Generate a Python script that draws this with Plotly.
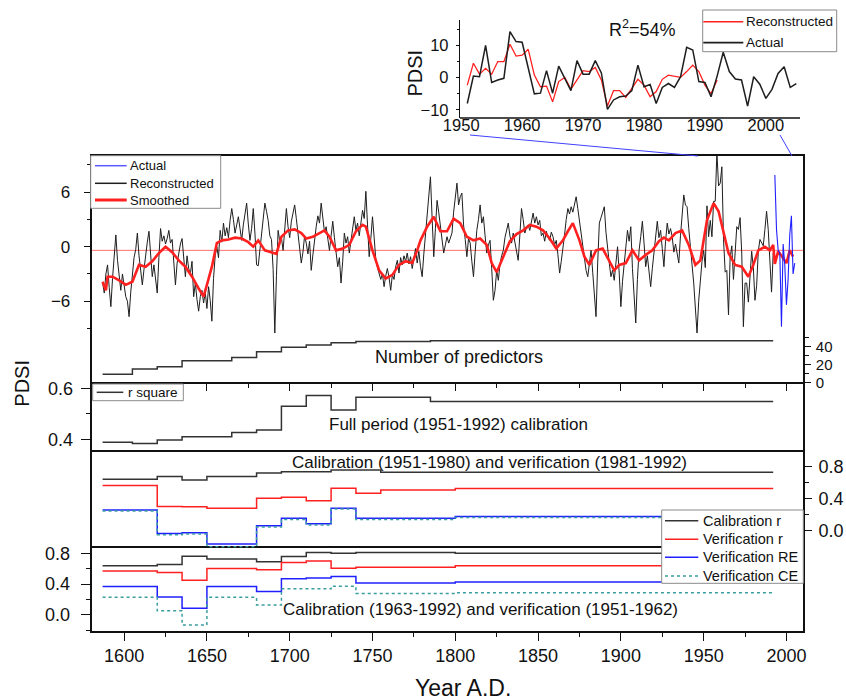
import plotly.graph_objects as go

W, H = 846, 700
def px(x): return x / W
def py(y): return 1 - y / H

FONT = "Liberation Sans"

# ---------------- data ----------------
recon_start_year = 1587
recon_early = [
    -3.9, -5.1, -3.0,
    -2.0, -4.5, -6.6, -3.5, -1.0, 1.3, -1.5, -3.2, -4.8, -3.0,
    -4.2, -5.5, -6.0, -7.7, -5.0, -3.3, -1.2, -0.3, 1.5, -1.0,
    -2.8, -4.2, -2.5, -0.8, 0.5, 1.7, -0.9, -3.3, -2.0, -3.6,
    -5.1, -1.2, 2.0, 0.6, 1.2, 0.3, 0.9, 1.8, 0.4, 0.8,
    -1.5, -4.2, -1.8, -0.5, 0.3, 0.9, -1.1, -3.3, -1.0, -2.4,
    -3.0, -1.6, -5.5, -4.0, -5.8, -7.1, -5.5, -4.8, -6.2, -5.0,
    -6.8, -4.4, -5.9, -8.2, -3.5, -1.0, 0.0, -1.2, 1.8, 0.5,
    2.6, 1.2, 2.1, 1.0, 2.9, 4.2, 3.0, 1.5, 2.4, 3.3,
    2.0, 0.7, 2.4, 3.5, 4.8, 2.5, 0.7, 2.0, 4.2, 1.5,
    -2.0, -2.1, -0.5, 1.6, 3.2, 4.8, 3.9, 2.9, 1.2, 0.8,
    -2.5, -9.5, -3.2, 1.8, 0.6, 1.0, -0.4, 1.9, 4.2, 2.2,
    1.0, 2.8, 3.6, 4.6, 3.1, 1.5, 0.2, -1.8, -0.6, 1.2,
    0.4, -0.8, 0.6, -2.6, -0.9, 0.8, 2.2, 3.4, 2.6, 4.8,
    3.0, 1.6, 2.2, 1.0, -0.4, 1.2, 2.8, 1.0, -0.6, -2.2,
    -1.2, -4.0, -1.6, 1.5, 0.4, 1.1, -0.7, 0.8, 2.0, 3.3,
    1.8, 2.6, 1.2, 2.9, 4.0, 3.1, 6.1, 2.4, -1.1, 0.9,
    3.3, 1.0, -1.4, -2.3, -2.9, -3.6, -3.0, -4.4, -3.2, -2.4,
    -3.4, -4.8, -3.1, -3.6, -2.2, -1.5, -2.9, -1.2, -2.0, -1.0,
    -1.6, -0.7, -1.9, -1.1, -2.4, -1.5, -0.2, -1.8, -0.5, -2.2,
    -3.3, -0.8, 1.5, 3.5, 5.6, 7.7, 3.2, -1.1, 2.0, 5.1,
    3.8, 2.2, 0.9, -0.7, 0.2, 1.1, 0.4, 0.9, 1.5, 3.8,
    5.2, 7.0, 4.6, 5.5, 5.9, 2.4, 0.8, -1.1, 0.9, 0.4,
    -1.6, -3.3, -0.6, 1.8, 3.0, 4.6, 2.6, 3.3, 1.2, -0.7,
    0.2, 0.7, -2.4, -5.9, -4.8, -2.6, -3.7, -1.9, -1.0, -0.4,
    1.0, 1.8, 2.6, 1.2, 0.4, 1.5, 0.6, -0.2, -1.5, 1.3,
    4.2, 3.0, 1.5, 2.1, 2.4, 1.8, 3.0, 3.7, 2.6, 3.3,
    2.4, 2.9, 1.2, 1.5, 0.6, 1.7, 1.0, 0.7, 1.6, 1.1,
    0.2, 0.7, -0.9, -2.9, -1.6, -0.4, 1.3, 3.0, 4.2, 3.6,
    4.4, 3.8, 4.9, 5.5, 4.2, 2.9, 1.5, 0.3, -1.5, -2.6,
    -3.3, -1.9, -0.4, -2.8, -5.0, -7.7, -1.8, 2.6, 3.2, 3.8,
    4.4, 1.6, -0.4, -1.8, -3.3, -2.6, -3.7, -1.4, 0.0, -2.9,
    -6.6, -3.8, -1.8, 0.2, 1.8, 0.6, 2.2, -2.4, -5.0, -8.4,
    -3.6, -0.4, 1.1, 2.8, 0.4, -2.2, -1.0, -2.9, -4.4, -2.4,
    -0.4, 1.2, 2.8, 1.0, 1.8, -0.2, -2.2, 0.6, 2.6, 1.4,
    2.0, 1.1, -0.6, 0.3, -1.0, -1.8, 1.2, 4.0, 5.7, 4.6,
    4.4, 2.0, -0.4, -2.0, -4.0, -6.4, -9.5, -6.0, -3.3, -1.6,
    -0.4,
]

inset_start_year = 1951
inset_recon = [
    -2.3, 4.5, 1.1, 2.9, 1.1, 5.0, 5.0, 10.4, 6.7, 7.0,
    8.8, 0.8, -2.8, -2.6, -7.5, -1.2, 0.1, -3.6, -0.7, 2.2,
    1.9, 3.2, -0.7, -8.8, -4.0, -4.0, -6.1, -3.3, -0.5, -2.3,
    -5.9, -4.3, -0.5, 0.8, 0.5, 0.1, 1.9, 3.9, 1.9, -2.3,
    -5.0, -0.7,
]
actual = [
    -8.0, 0.5, 0.3, 10.0, -1.5, -0.7, -0.2, 14.3, 11.2, 11.0,
    3.0, -5.0, -4.8, 2.2, -4.8, 3.6, -0.2, -4.0, 5.3, 1.1,
    1.1, 5.3, 1.5, -9.8, -6.9, -5.9, -5.7, -4.0, 3.9, -2.8,
    -2.1, -8.0, -3.0, -1.8, -3.0, 0.3, 9.4, 8.6, -1.2, -1.5,
    -5.9, 0.5, 7.9, 1.9, -0.4, -0.7, -8.8, 0.3, -2.0, -6.4,
    -3.6, 1.3, 3.4, -3.0, -1.8,
]
main_actual_from = 1993

smooth_years = [1587, 1589, 1590, 1593, 1597, 1601, 1605, 1609, 1613, 1617, 1621, 1625, 1629,
                1633, 1637, 1641, 1645, 1648, 1650, 1653, 1656, 1659, 1663, 1667, 1671, 1675,
                1678, 1681, 1685, 1689, 1692, 1695, 1699, 1703, 1707, 1710, 1714, 1718, 1721,
                1724, 1728, 1732, 1736, 1740, 1744, 1746, 1750, 1754, 1758, 1762, 1766, 1770,
                1774, 1777, 1779, 1783, 1787, 1791, 1795, 1799, 1803, 1807, 1811, 1815, 1819,
                1822, 1825, 1829, 1833, 1837, 1841, 1845, 1849, 1853, 1857, 1861, 1865, 1868,
                1871, 1875, 1878, 1881, 1885, 1889, 1893, 1896, 1899, 1903, 1907, 1911, 1915,
                1919, 1923, 1926, 1929, 1933, 1937, 1941, 1945, 1948, 1952, 1956, 1959, 1962,
                1965, 1969, 1973, 1977, 1980, 1983, 1987, 1990, 1992, 1993, 1995, 1997, 2000,
                2002, 2004]
smooth_vals = [-3.85, -4.8, -3.3, -3.3, -3.7, -4.2, -3.85, -2.0, -2.2, -1.6, -0.7, 0.0, -0.6,
               -1.5, -2.2, -3.3, -4.6, -5.5, -4.2, -2.2, 0.4, 0.7, 0.8, 1.0, 0.9, 0.5,
               0.0, 0.7, -0.4, -0.6, -0.8, 1.1, 1.8, 1.9, 1.5, 0.9, 1.1, 1.5, 1.8,
               1.1, -0.4, -0.2, 0.2, 1.7, 2.4, 2.2, -0.4, -2.6, -3.5, -3.1, -2.0, -1.6,
               -1.8, -0.4, 0.7, 2.2, 3.3, 1.7, 1.7, 3.1, 2.6, 1.1, 0.7, 0.9, 0.2,
               -1.8, -2.8, -1.1, 0.6, 1.4, 1.8, 2.4, 2.2, 1.8, 0.9, -0.2, 0.7, 1.7,
               2.6, 0.7, -1.1, -2.0, -0.4, -0.2, -1.5, -2.6, -2.0, -1.8, -0.4, -1.5, -0.9,
               -0.4, 0.6, 1.0, 0.7, 1.5, 1.8, 0.2, -2.0, -1.5, 2.9, 4.8, 3.9, 1.5,
               -0.7, -2.0, -2.2, -3.3, -2.0, -0.4, 0.0, -0.4, 0.2, -1.9, -0.5, -1.0, -1.8,
               -0.4, -1.1]
mean_line = -0.4

# step panels (breakpoint years, segment values)
step_years = [1587, 1605, 1620, 1635, 1650, 1665, 1680, 1695, 1710, 1725, 1740, 1755, 1785, 1800]
step_end = 1992
n_predictors = [9.3, 15.2, 17.8, 24.5, 24.5, 28.0, 34.5, 39.5, 42.0, 44.5, 45.8, 45.8, 46.7, 46.7]
r_square = [0.388, 0.384, 0.397, 0.41, 0.41, 0.427, 0.437, 0.53, 0.572, 0.515, 0.565, 0.565, 0.548, 0.548]
a_cal_r = [0.643, 0.643, 0.676, 0.635, 0.676, 0.676, 0.72, 0.738, 0.738, 0.759, 0.759, 0.73, 0.73, 0.73]
a_ver_r = [0.564, 0.564, 0.303, 0.30, 0.282, 0.282, 0.406, 0.419, 0.373, 0.531, 0.469, 0.51, 0.51, 0.527]
a_re = [0.26, 0.26, -0.035, -0.025, -0.166, -0.166, 0.062, 0.157, 0.087, 0.282, 0.157, 0.157, 0.157, 0.178]
a_ce = [0.245, 0.245, -0.05, -0.04, -0.2, -0.2, 0.045, 0.14, 0.07, 0.27, 0.14, 0.14, 0.14, 0.165]
b_cal_r = [0.64, 0.64, 0.655, 0.762, 0.725, 0.725, 0.69, 0.759, 0.81, 0.80, 0.81, 0.81, 0.81, 0.80]
b_ver_r = [0.572, 0.572, 0.552, 0.452, 0.603, 0.603, 0.588, 0.68, 0.70, 0.605, 0.62, 0.62, 0.62, 0.64]
b_re = [0.37, 0.37, 0.234, 0.088, 0.37, 0.37, 0.305, 0.47, 0.479, 0.50, 0.415, 0.415, 0.415, 0.428]
b_ce = [0.229, 0.229, 0.055, -0.13, 0.229, 0.229, 0.13, 0.34, 0.34, 0.373, 0.28, 0.28, 0.28, 0.29]

x_ticks = [1600, 1650, 1700, 1750, 1800, 1850, 1900, 1950, 2000]
x_minor = [1625, 1675, 1725, 1775, 1825, 1875, 1925, 1975]
inset_ticks = [1950, 1960, 1970, 1980, 1990, 2000]

# ---------------- geometry (pixels) ----------------
XL, XR = 91.5, 803.0
XRANGE = [1580.3, 2010.0]
MAIN = (155.7, 337.0)
PRED = (337.0, 384.3)
RSQ = (384.3, 452.3)
P3 = (452.3, 547.7)
P4 = (547.7, 630.7)
INSET_X = (460.0, 800.0)
INSET_Y = (20.0, 118.0)

BLACK = "#1e1e1e"
DARK = "#333333"
RED = "#ff2020"
BLUE = "#2020ff"
TEAL = "#3a9e9e"

fig = go.Figure()

recon = recon_early + inset_recon
recon_years = list(range(recon_start_year, recon_start_year + len(recon)))
inset_years = list(range(inset_start_year, inset_start_year + len(actual)))
recon_inset_years = list(range(inset_start_year, inset_start_year + len(inset_recon)))
main_act_years = [y for y in inset_years if y >= main_actual_from]
main_act_vals = [v for y, v in zip(inset_years, actual) if y >= main_actual_from]

# main panel
fig.add_trace(go.Scatter(x=recon_years, y=recon, mode="lines", name="Reconstructed",
                         line=dict(color=BLACK, width=1.0), xaxis="x5", yaxis="y"))
fig.add_trace(go.Scatter(x=smooth_years, y=smooth_vals, mode="lines", name="Smoothed",
                         line=dict(color=RED, width=2.6), xaxis="x5", yaxis="y"))
fig.add_trace(go.Scatter(x=main_act_years, y=main_act_vals, mode="lines", name="Actual",
                         line=dict(color=BLUE, width=1.1), xaxis="x5", yaxis="y"))

# inset
fig.add_trace(go.Scatter(x=recon_inset_years, y=inset_recon, mode="lines", name="Reconstructed",
                         line=dict(color=RED, width=1.3), xaxis="x6", yaxis="y6"))
fig.add_trace(go.Scatter(x=inset_years, y=actual, mode="lines", name="Actual",
                         line=dict(color=BLACK, width=1.5), xaxis="x6", yaxis="y6"))

def steps(vals):
    return step_years + [step_end], vals + [vals[-1]]

sx, sy = steps(n_predictors)
fig.add_trace(go.Scatter(x=sx, y=sy, mode="lines", name="Number of predictors",
                         line=dict(color=DARK, width=1.5, shape="hv"), xaxis="x4", yaxis="y2"))
sx, sy = steps(r_square)
fig.add_trace(go.Scatter(x=sx, y=sy, mode="lines", name="r square",
                         line=dict(color=DARK, width=1.5, shape="hv"), xaxis="x3", yaxis="y3"))

series_names = ["Calibration r", "Verification r", "Verification RE", "Verification CE"]
series_cols = [DARK, RED, BLUE, TEAL]
series_dash = ["solid", "solid", "solid", "dot"]
for name, vals, col, dash in zip(series_names, [a_cal_r, a_ver_r, a_re, a_ce], series_cols, series_dash):
    sx, sy = steps(vals)
    fig.add_trace(go.Scatter(x=sx, y=sy, mode="lines", name=name,
                             line=dict(color=col, width=1.5, shape="hv", dash=dash),
                             xaxis="x2", yaxis="y4"))
for name, vals, col, dash in zip(series_names, [b_cal_r, b_ver_r, b_re, b_ce], series_cols, series_dash):
    sx, sy = steps(vals)
    fig.add_trace(go.Scatter(x=sx, y=sy, mode="lines", name=name,
                             line=dict(color=col, width=1.5, shape="hv", dash=dash),
                             xaxis="x", yaxis="y5"))

dom_x = [px(XL), px(XR)]
def ydom(p): return [py(p[1]), py(p[0])]

AX = dict(showgrid=False, zeroline=False, linecolor="#111", tickcolor="#111", automargin=False,
          tickfont=dict(family=FONT, size=18, color="#111"))
MINOR = dict(ticks="outside", ticklen=4, tickwidth=1.3, tickcolor="#111", showgrid=False)

layout = dict(
    width=W, height=H, margin=dict(l=0, r=0, t=0, b=0, autoexpand=False), autosize=False,
    paper_bgcolor="white", plot_bgcolor="white", showlegend=False,
    font=dict(family=FONT, color="#111"),
    xaxis=dict(AX, domain=dom_x, range=XRANGE, anchor="y5", showline=True, linewidth=1.6,
               mirror=True, ticks="outside", ticklen=8, tickwidth=1.3, tickvals=x_ticks,
               ticklabelstandoff=0, minor=dict(MINOR, tickvals=x_minor)),
    xaxis2=dict(AX, domain=dom_x, range=XRANGE, anchor="y4", side="top", showline=True,
                linewidth=2, ticks="", showticklabels=False),
    xaxis3=dict(AX, domain=dom_x, range=XRANGE, anchor="y3", side="top", showline=True,
                linewidth=1.6, ticks="inside", ticklen=7, tickwidth=1.3, tickvals=x_ticks,
                showticklabels=False, minor=dict(MINOR, ticks="inside", tickvals=x_minor)),
    xaxis4=dict(AX, domain=dom_x, range=XRANGE, anchor="y2", visible=False),
    xaxis5=dict(AX, domain=dom_x, range=XRANGE, anchor="y", side="top", showline=True,
                linewidth=1.6, ticks="", showticklabels=False),
    yaxis=dict(AX, domain=ydom(MAIN), range=[-9.94, 10.02], anchor="x5", side="left",
               showline=True, linewidth=1.6, mirror=True, ticks="outside", ticklen=6,
               tickwidth=1.3, tickvals=[-6, 0, 6], ticklabelstandoff=10,
               tickfont=dict(family=FONT, size=17, color="#111"),
               minor=dict(MINOR, tickvals=[-9, -3, 3, 9], ticklen=3)),
    yaxis2=dict(AX, domain=ydom(PRED), range=[-1.78, 50.8], anchor="x4", side="right",
                showline=True, linewidth=1.6, mirror=True, ticks="outside", ticklen=6,
                tickwidth=1.3, tickvals=[0, 20, 40], ticklabelstandoff=2,
                tickfont=dict(family=FONT, size=15, color="#111"),
                minor=dict(MINOR, tickvals=[10, 30, 50])),
    yaxis3=dict(AX, domain=ydom(RSQ), range=[0.349, 0.616], anchor="x3", side="left",
                showline=True, linewidth=1.6, mirror=True, ticks="outside", ticklen=9,
                tickwidth=1.3, tickvals=[0.4, 0.6], tickformat=".1f", ticklabelstandoff=4,
                minor=dict(MINOR, tickvals=[0.5])),
    yaxis4=dict(AX, domain=ydom(P3), range=[-0.2125, 0.98], anchor="x2", side="right",
                showline=True, linewidth=1.6, mirror=True, ticks="outside", ticklen=7,
                tickwidth=1.3, tickvals=[0.0, 0.4, 0.8], tickformat=".1f", ticklabelstandoff=3,
                minor=dict(MINOR, tickvals=[0.2, 0.6])),
    yaxis5=dict(AX, domain=ydom(P4), range=[-0.204, 0.873], anchor="x", side="left",
                showline=True, linewidth=1.6, mirror=True, ticks="outside", ticklen=9,
                tickwidth=1.3, tickvals=[0.0, 0.4, 0.8], tickformat=".1f", ticklabelstandoff=7,
                minor=dict(MINOR, tickvals=[-0.2, 0.2, 0.6])),
    # inset: x axis labels sit a little closer to the axis line (drawn as a shape below)
    xaxis6=dict(AX, domain=[px(INSET_X[0]), px(INSET_X[1])], range=[1949.8, 2005.6],
                anchor="free", position=py(INSET_Y[1] - 5), showline=False, ticks="",
                tickvals=inset_ticks, ticklabelstandoff=0,
                tickfont=dict(family=FONT, size=16.5, color="#111")),
    yaxis6=dict(AX, domain=[py(INSET_Y[1]), py(INSET_Y[0])], range=[-12.5, 17.9], anchor="x6",
                showline=True, linewidth=1.3, ticks="outside", ticklen=3, tickvals=[-10, 0, 10],
                ticklabelstandoff=4, tickfont=dict(family=FONT, size=16.5, color="#111"),
                minor=dict(MINOR, tickvals=[-5, 5, 15], ticklen=2)),
)
fig.update_layout(**layout)

# inset bottom axis line
fig.add_shape(type="line", xref="paper", yref="paper", x0=px(INSET_X[0]), x1=px(INSET_X[1]),
              y0=py(INSET_Y[1]), y1=py(INSET_Y[1]), line=dict(color="#111", width=1.3))
# mean reference line in main panel
fig.add_shape(type="line", xref="paper", x0=px(XL), x1=px(XR), yref="y", y0=mean_line, y1=mean_line,
              line=dict(color="#ff7070", width=1), layer="below")
# connector lines from inset to main panel
fig.add_shape(type="line", xref="paper", yref="paper", x0=px(470), y0=py(135), x1=px(698), y1=py(156),
              line=dict(color="#4040ff", width=1))
fig.add_shape(type="line", xref="paper", yref="paper", x0=px(780), y0=py(135), x1=px(792), y1=py(156),
              line=dict(color="#4040ff", width=1))

def ann(text, x, y, size, angle=0, xanchor="center"):
    fig.add_annotation(text=text, xref="paper", yref="paper", x=px(x), y=py(y), showarrow=False,
                       xanchor=xanchor, yanchor="middle", textangle=angle, borderpad=0,
                       font=dict(family=FONT, size=size, color="#111"))

# hand-placed legend boxes
def legend_box(box, entries, line_x, text_x, size):
    x0, y0, x1, y1 = box
    fig.add_shape(type="rect", xref="paper", yref="paper", x0=px(x0), x1=px(x1), y0=py(y1), y1=py(y0),
                  fillcolor="white", line=dict(color="#8a8a8a", width=1), layer="above")
    for label, ly, col, width, dash in entries:
        fig.add_shape(type="line", xref="paper", yref="paper", x0=px(line_x[0]), x1=px(line_x[1]),
                      y0=py(ly), y1=py(ly), line=dict(color=col, width=width, dash=dash), layer="above")
        ann(label, text_x, ly, size, xanchor="left")

legend_box((90.7, 155.7, 220.7, 208.3),
           [("Actual", 165.7, "#5a5aff", 1.5, "solid"),
            ("Reconstructed", 183.3, BLACK, 1.5, "solid"),
            ("Smoothed", 200.0, RED, 3, "solid")],
           (95, 126.7), 128.5, 13)
legend_box((702.7, 10, 836.7, 51.7),
           [("Reconstructed", 21.7, RED, 1.5, "solid"),
            ("Actual", 42.7, BLACK, 1.8, "solid")],
           (703.3, 743.3), 745, 13.5)
legend_box((92.7, 384, 183.3, 400.7),
           [("r square", 392.3, DARK, 1.5, "solid")],
           (96.7, 123.3), 127, 13.5)
legend_box((661.7, 510, 803.3, 583.3),
           [("Calibration r", 520.7, DARK, 1.5, "solid"),
            ("Verification r", 539.3, RED, 1.5, "solid"),
            ("Verification RE", 557.3, BLUE, 1.5, "solid"),
            ("Verification CE", 576.0, TEAL, 1.5, "dot")],
           (665, 698.3), 701.5, 14.5)

ann("Number of predictors", 459, 357, 18)
ann("Full period (1951-1992) calibration", 459, 425, 17)
ann("Calibration (1951-1980) and verification (1981-1992)", 489, 462, 17)
ann("Calibration (1963-1992) and verification (1951-1962)", 480, 609.3, 17)
ann("PDSI", 21.7, 383, 20, -90)
ann("PDSI", 415, 73.5, 20, -90)
ann("Year A.D.", 463, 688, 23)
ann("R<sup>2</sup>=54%", 642, 29, 18)

fig.write_html("out.html")
